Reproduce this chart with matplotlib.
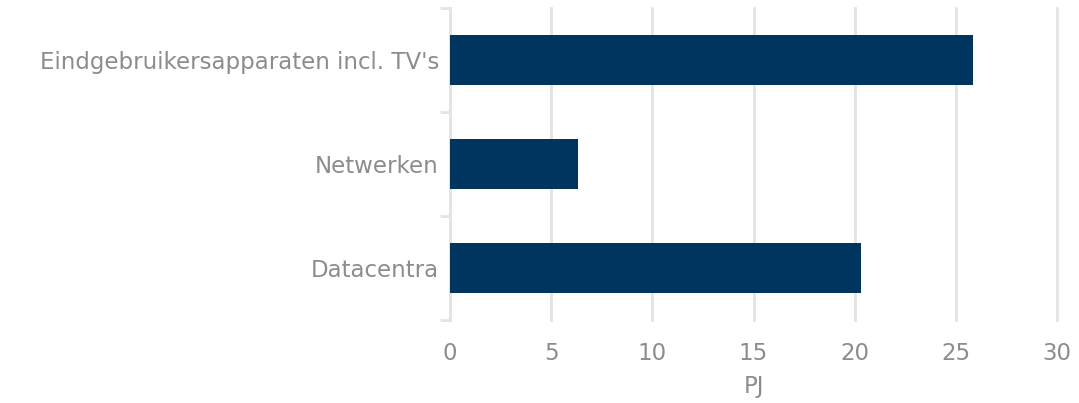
import os
import numpy as np
import matplotlib
import matplotlib.pyplot as plt
from matplotlib.font_manager import FontProperties

# data
categories = ["Datacentra", "Netwerken", "Eindgebruikersapparaten incl. TV's"]
values = [20.3, 6.35, 25.85]
xticks = [0, 5, 10, 15, 20, 25, 30]

bar_color = '#003560'
text_color = '#8c8c8c'
grid_color = '#e3e3e3'
font_path = os.path.join(matplotlib.get_data_path(), 'fonts', 'ttf', 'DejaVuSans.ttf')
fp = FontProperties(fname=font_path, size=16.5)

fig = plt.figure(figsize=(10.79, 4.03), dpi=100)
ax = fig.add_axes([450/1079, 1 - 320/403, 607/1079, 312/403])

y = np.arange(len(categories))
ax.barh(y, values, height=0.49, color=bar_color, zorder=3)

ax.set_xlim(0, 30)
ax.set_ylim(-0.5, len(categories) - 0.5)
ax.set_xticks(xticks)
ax.set_xticklabels([str(t) for t in xticks], fontproperties=fp, color=text_color)
ax.set_yticks(y)
ax.set_yticklabels(categories, fontproperties=fp, color=text_color)
ax.set_yticks(np.arange(len(categories) + 1) - 0.5, minor=True)

ax.grid(axis='x', color=grid_color, linewidth=2, zorder=0)
for gl in ax.get_xgridlines():
    gl.set_clip_on(False)
for side in ['top', 'right', 'bottom']:
    ax.spines[side].set_visible(False)
ax.spines['left'].set_color(grid_color)
ax.spines['left'].set_linewidth(2)

ax.tick_params(axis='y', which='major', length=0, pad=8)
ax.tick_params(axis='y', which='minor', length=7, width=2, color=grid_color)
ax.tick_params(axis='x', length=0, pad=16)

ax.set_xlabel('PJ', color=text_color, fontproperties=fp, labelpad=7)

fig.savefig('out.png', dpi=100)
